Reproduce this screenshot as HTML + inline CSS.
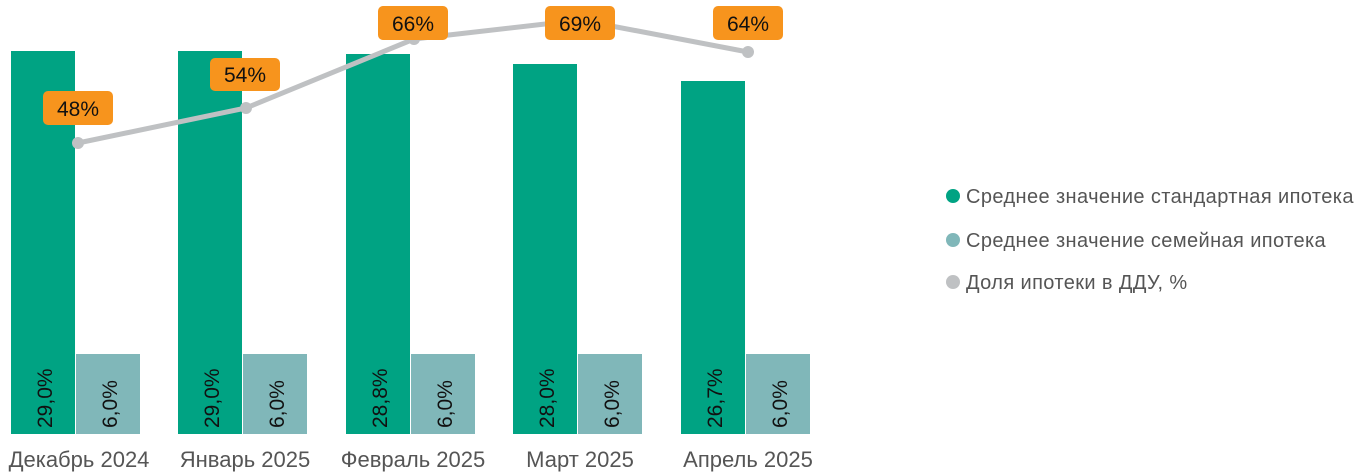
<!DOCTYPE html>
<html><head><meta charset="utf-8"><style>
body{margin:0;background:#fff;}
svg{display:block}
text{font-family:"Liberation Sans",sans-serif;}
</style></head><body>
<svg width="1366" height="475" xmlns="http://www.w3.org/2000/svg">
<g fill="#00a383">
<rect x="11" y="51" width="64" height="383"/>
<rect x="178" y="51" width="64" height="383"/>
<rect x="346" y="54" width="64" height="380"/>
<rect x="513" y="64" width="64" height="370"/>
<rect x="681" y="81" width="64" height="353"/>
</g>
<g fill="#80b7b9">
<rect x="76" y="354" width="64" height="80"/>
<rect x="243" y="354" width="64" height="80"/>
<rect x="411" y="354" width="64" height="80"/>
<rect x="578" y="354" width="64" height="80"/>
<rect x="746" y="354" width="64" height="80"/>
</g>
<g font-size="21" fill="#111">
<text transform="translate(52,428) rotate(-90)">29,0%</text>
<text transform="translate(117,428) rotate(-90)">6,0%</text>
<text transform="translate(219,428) rotate(-90)">29,0%</text>
<text transform="translate(284,428) rotate(-90)">6,0%</text>
<text transform="translate(387,428) rotate(-90)">28,8%</text>
<text transform="translate(452,428) rotate(-90)">6,0%</text>
<text transform="translate(554,428) rotate(-90)">28,0%</text>
<text transform="translate(619,428) rotate(-90)">6,0%</text>
<text transform="translate(722,428) rotate(-90)">26,7%</text>
<text transform="translate(787,428) rotate(-90)">6,0%</text>
</g>
<polyline points="78,143 246,108 414,39 580,20 748,52" fill="none" stroke="#bfc1c3" stroke-width="5"/>
<g fill="#bfc1c3">
<circle cx="78" cy="143" r="6"/><circle cx="246" cy="108" r="6"/><circle cx="414" cy="39" r="6"/><circle cx="580" cy="20" r="6"/><circle cx="748" cy="52" r="6"/>
</g>
<g fill="#f7941d">
<rect x="43" y="91" width="70" height="34" rx="5"/>
<rect x="210" y="58" width="70" height="33" rx="5"/>
<rect x="378" y="6" width="70" height="34" rx="5"/>
<rect x="545" y="6" width="70" height="34" rx="5"/>
<rect x="713" y="6" width="70" height="34" rx="5"/>
</g>
<g font-size="21" fill="#111" text-anchor="middle">
<text x="78" y="116">48%</text>
<text x="245" y="82">54%</text>
<text x="413" y="31">66%</text>
<text x="580" y="31">69%</text>
<text x="748" y="31">64%</text>
</g>
<g font-size="22" fill="#555" text-anchor="middle">
<text x="79" y="467">Декабрь 2024</text>
<text x="245" y="467">Январь 2025</text>
<text x="413" y="467">Февраль 2025</text>
<text x="580" y="467">Март 2025</text>
<text x="748" y="467">Апрель 2025</text>
</g>
<circle cx="953" cy="196" r="7" fill="#00a383"/>
<circle cx="953" cy="240" r="7" fill="#80b7b9"/>
<circle cx="953" cy="282" r="7" fill="#bfc1c3"/>
<g font-size="20" fill="#555" letter-spacing="0.4">
<text x="966" y="203">Среднее значение стандартная ипотека</text>
<text x="966" y="247">Среднее значение семейная ипотека</text>
<text x="966" y="289">Доля ипотеки в ДДУ, %</text>
</g>
</svg>
</body></html>
